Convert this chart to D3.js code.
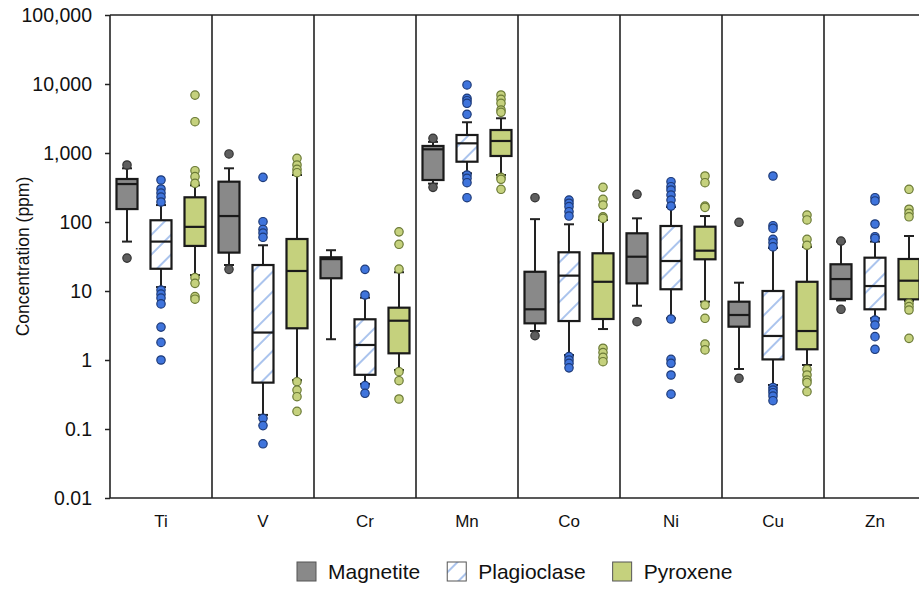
<!DOCTYPE html>
<html>
<head>
<meta charset="utf-8">
<script src="https://cdnjs.cloudflare.com/ajax/libs/d3/7.8.5/d3.min.js"></script>
<style>
  body { margin: 0; background: #fff; }
  svg { display: block; font-family: "Liberation Sans", Arial, Helvetica, sans-serif; }
</style>
</head>
<body>
<div id="chart"></div>
<script>
const elements = ['Ti', 'V', 'Cr', 'Mn', 'Co', 'Ni', 'Cu', 'Zn']
const minerals = ['Magnetite', 'Plagioclase', 'Pyroxene']
const yTicks = [0.01, 0.1, 1, 10, 100, 1000, 10000, 100000]

// box stats per element: [whisker low, q1, median, q3, whisker high]
const magnetiteBoxes = [
  [52, 154, 355, 420, 600],
  [23.8, 36, 122, 384, 600],
  [2.0, 15.3, 29, 30.8, 39],
  [360, 406, 1131, 1265, 1450],
  [2.63, 3.4, 5.43, 19, 110],
  [6.12, 12.9, 31.4, 68.6, 113],
  [0.74, 3.04, 4.49, 7.0, 13.2],
  [7.3, 7.66, 14.9, 24.4, 52]
]
const magnetiteOutliers = [
  [670, 30],
  [968, 20.6],
  [],
  [1633, 318],
  [225, 2.25],
  [252, 3.59],
  [99, 0.543],
  [53, 5.43]
]

const plagioclaseBoxes = [
  [11.4, 21, 52, 106, 176],
  [0.16, 0.47, 2.5, 23.8, 46],
  [0.45, 0.61, 1.65, 3.89, 8],
  [508, 748, 1381, 1824, 2790],
  [1.18, 3.67, 16.7, 36.4, 92.6],
  [4.02, 10.6, 27.2, 87.5, 165],
  [0.434, 1.02, 2.23, 10, 42],
  [4.02, 5.43, 11.8, 30.4, 52]
]
const plagioclaseOutliers = [
  [406, 301, 263, 230, 195, 10.3, 9.0, 7.9, 6.5, 3.0, 1.8, 1.0],
  [444, 101, 78, 69, 60, 0.143, 0.112, 0.061],
  [20.6, 8.75, 0.425, 0.329],
  [9680, 6200, 5730, 5250, 3640, 480, 430, 371, 225],
  [208, 187, 167, 141, 122, 1.12, 1.0, 0.895, 0.77],
  [384, 325, 291, 246, 208, 170, 3.93, 1.02, 0.895, 0.606, 0.32],
  [464, 88.4, 80.8, 56.1, 50, 43.6, 0.40, 0.367, 0.336, 0.30, 0.257],
  [225, 202, 93.5, 61.2, 57.8, 3.8, 3.21, 2.18, 1.43]
]

const pyroxeneBoxes = [
  [17, 45, 85, 228, 340],
  [0.51, 2.88, 19.5, 56.7, 480],
  [0.716, 1.25, 3.71, 5.73, 18.7],
  [480, 905, 1493, 2154, 3185],
  [2.81, 3.93, 13.6, 35.2, 107],
  [7.0, 28.8, 38.4, 85.5, 122],
  [0.846, 1.43, 2.63, 13.6, 43.6],
  [7.2, 7.57, 14.1, 29.1, 62.7]
]
const pyroxeneOutliers = [
  [6900, 2840, 554, 454, 364, 15.6, 12.9, 8.3, 7.6],
  [838, 670, 580, 518, 0.485, 0.367, 0.294, 0.18],
  [72, 47.5, 20.8, 0.677, 0.501, 0.272],
  [6930, 6000, 5250, 4200, 3890, 444, 416, 298],
  [318, 213, 176, 119, 113, 1.48, 1.28, 1.09, 0.945],
  [464, 371, 170, 163, 6.27, 4.02, 1.70, 1.40],
  [126, 107, 56, 46, 0.73, 0.606, 0.513, 0.47, 0.347],
  [298, 153, 134, 119, 6.63, 5.93, 5.3, 2.06]
]

const width = 919
const height = 592
const margin = { left: 110, top: 15, bottom: 498 }
const plotRight = 926 // last panel runs past the edge of the picture

const styles = {
  Magnetite: { fill: '#898989', dot: '#5e5e5e', dotStroke: '#333333' },
  Plagioclase: { fill: 'url(#hatch)', dot: '#3f74dc', dotStroke: '#1d3a78' },
  Pyroxene: { fill: '#c5d17d', dot: '#c5d17d', dotStroke: '#6b7a36' }
}

const series = [
  { name: 'Magnetite', boxes: magnetiteBoxes, outliers: magnetiteOutliers },
  { name: 'Plagioclase', boxes: plagioclaseBoxes, outliers: plagioclaseOutliers },
  { name: 'Pyroxene', boxes: pyroxeneBoxes, outliers: pyroxeneOutliers }
]

const svg = d3.select('#chart').append('svg')
  .attr('width', width)
  .attr('height', height)

const defs = svg.append('defs')
const hatch = defs.append('pattern')
  .attr('id', 'hatch')
  .attr('patternUnits', 'userSpaceOnUse')
  .attr('width', 14)
  .attr('height', 14)
  .attr('patternTransform', 'rotate(45)')
hatch.append('rect')
  .attr('width', 14)
  .attr('height', 14)
  .attr('fill', '#ffffff')
hatch.append('line')
  .attr('x1', 7).attr('y1', 0)
  .attr('x2', 7).attr('y2', 14)
  .attr('stroke', '#8fb0e8')
  .attr('stroke-width', 1.5)

const y = d3.scaleLog()
  .domain([0.01, 100000])
  .range([margin.bottom, margin.top])

const x = d3.scaleBand()
  .domain(elements)
  .range([margin.left, plotRight])

const xInner = d3.scaleBand()
  .domain(minerals)
  .range([0, x.bandwidth()])

const boxWidth = 21
const capWidth = 10

// y axis
const yAxis = svg.append('g')
  .attr('transform', `translate(${margin.left},0)`)
  .call(d3.axisLeft(y)
    .tickValues(yTicks)
    .tickFormat(d3.format(','))
    .tickSize(5)
    .tickSizeOuter(0))
yAxis.select('.domain').remove()
yAxis.selectAll('line').attr('stroke', '#222').attr('stroke-width', 1.5)
yAxis.selectAll('text')
  .attr('x', -18)
  .style('font-size', '19.5px')
  .style('font-family', '"Liberation Sans", Arial, sans-serif')
  .attr('fill', '#111')

svg.append('text')
  .attr('transform', `translate(29, ${(margin.top + margin.bottom) / 2}) rotate(-90)`)
  .attr('text-anchor', 'middle')
  .style('font-size', '17.5px')
  .attr('fill', '#111')
  .text('Concentration (ppm)')

// frame and panel dividers
const frame = svg.append('g')
  .attr('stroke', '#222')
  .attr('stroke-width', 1.6)
frame.append('line')
  .attr('x1', margin.left).attr('x2', plotRight)
  .attr('y1', margin.top).attr('y2', margin.top)
frame.append('line')
  .attr('x1', margin.left).attr('x2', plotRight)
  .attr('y1', margin.bottom).attr('y2', margin.bottom)
frame.selectAll('.divider')
  .data([elements[0]].concat(elements))
  .enter()
  .append('line')
  .attr('class', 'divider')
  .attr('x1', (d, i) => i === 0 ? x(d) : x(d) + x.bandwidth())
  .attr('x2', (d, i) => i === 0 ? x(d) : x(d) + x.bandwidth())
  .attr('y1', margin.top)
  .attr('y2', margin.bottom)

// x labels
svg.selectAll('.xLabel')
  .data(elements)
  .enter()
  .append('text')
  .attr('class', 'xLabel')
  .attr('x', d => x(d) + x.bandwidth() / 2)
  .attr('y', 527)
  .attr('text-anchor', 'middle')
  .style('font-size', '17px')
  .attr('fill', '#111')
  .text(d => d)

// boxes
series.forEach(s => {
  const st = styles[s.name]
  const g = svg.append('g').attr('class', `series-${s.name}`)
  const boxData = elements.map((e, i) => ({ el: e, stats: s.boxes[i], cx: x(e) + xInner(s.name) + xInner.bandwidth() / 2 }))

  const gBox = g.selectAll('.box')
    .data(boxData)
    .enter()
    .append('g')
    .attr('class', 'box')

  gBox.append('line')
    .attr('x1', d => d.cx).attr('x2', d => d.cx)
    .attr('y1', d => y(d.stats[0])).attr('y2', d => y(d.stats[4]))
    .attr('stroke', '#222').attr('stroke-width', 2)

  gBox.selectAll('.cap')
    .data(d => [d.stats[0], d.stats[4]].map(v => ({ v: v, cx: d.cx })))
    .enter()
    .append('line')
    .attr('class', 'cap')
    .attr('x1', d => d.cx - capWidth / 2).attr('x2', d => d.cx + capWidth / 2)
    .attr('y1', d => y(d.v)).attr('y2', d => y(d.v))
    .attr('stroke', '#222').attr('stroke-width', 2)

  gBox.append('rect')
    .attr('x', d => d.cx - boxWidth / 2)
    .attr('y', d => y(d.stats[3]))
    .attr('width', boxWidth)
    .attr('height', d => y(d.stats[1]) - y(d.stats[3]))
    .attr('fill', st.fill)
    .attr('stroke', '#1a1a1a').attr('stroke-width', 2.2)

  gBox.append('line')
    .attr('x1', d => d.cx - boxWidth / 2).attr('x2', d => d.cx + boxWidth / 2)
    .attr('y1', d => y(d.stats[2])).attr('y2', d => y(d.stats[2]))
    .attr('stroke', '#1a1a1a').attr('stroke-width', 2.2)

  const dots = []
  elements.forEach((e, i) => {
    s.outliers[i].forEach(v => dots.push({ v: v, cx: x(e) + xInner(s.name) + xInner.bandwidth() / 2 }))
  })

  g.selectAll('.dot')
    .data(dots)
    .enter()
    .append('circle')
    .attr('class', 'dot')
    .attr('cx', d => d.cx)
    .attr('cy', d => y(d.v))
    .attr('r', 4.2)
    .attr('fill', st.dot)
    .attr('stroke', st.dotStroke)
    .attr('stroke-width', 1.2)
})

// legend
const legend = svg.append('g').attr('class', 'legend')
let lx = 297
minerals.forEach(m => {
  legend.append('rect')
    .attr('x', lx).attr('y', 562)
    .attr('width', 19).attr('height', 19)
    .attr('fill', styles[m].fill)
    .attr('stroke', '#555').attr('stroke-width', 1)
  const t = legend.append('text')
    .attr('x', lx + 31).attr('y', 578.5)
    .style('font-size', '21px')
    .attr('fill', '#111')
    .text(m)
  lx += 31 + t.node().getComputedTextLength() + 27
})
</script>
</body>
</html>
